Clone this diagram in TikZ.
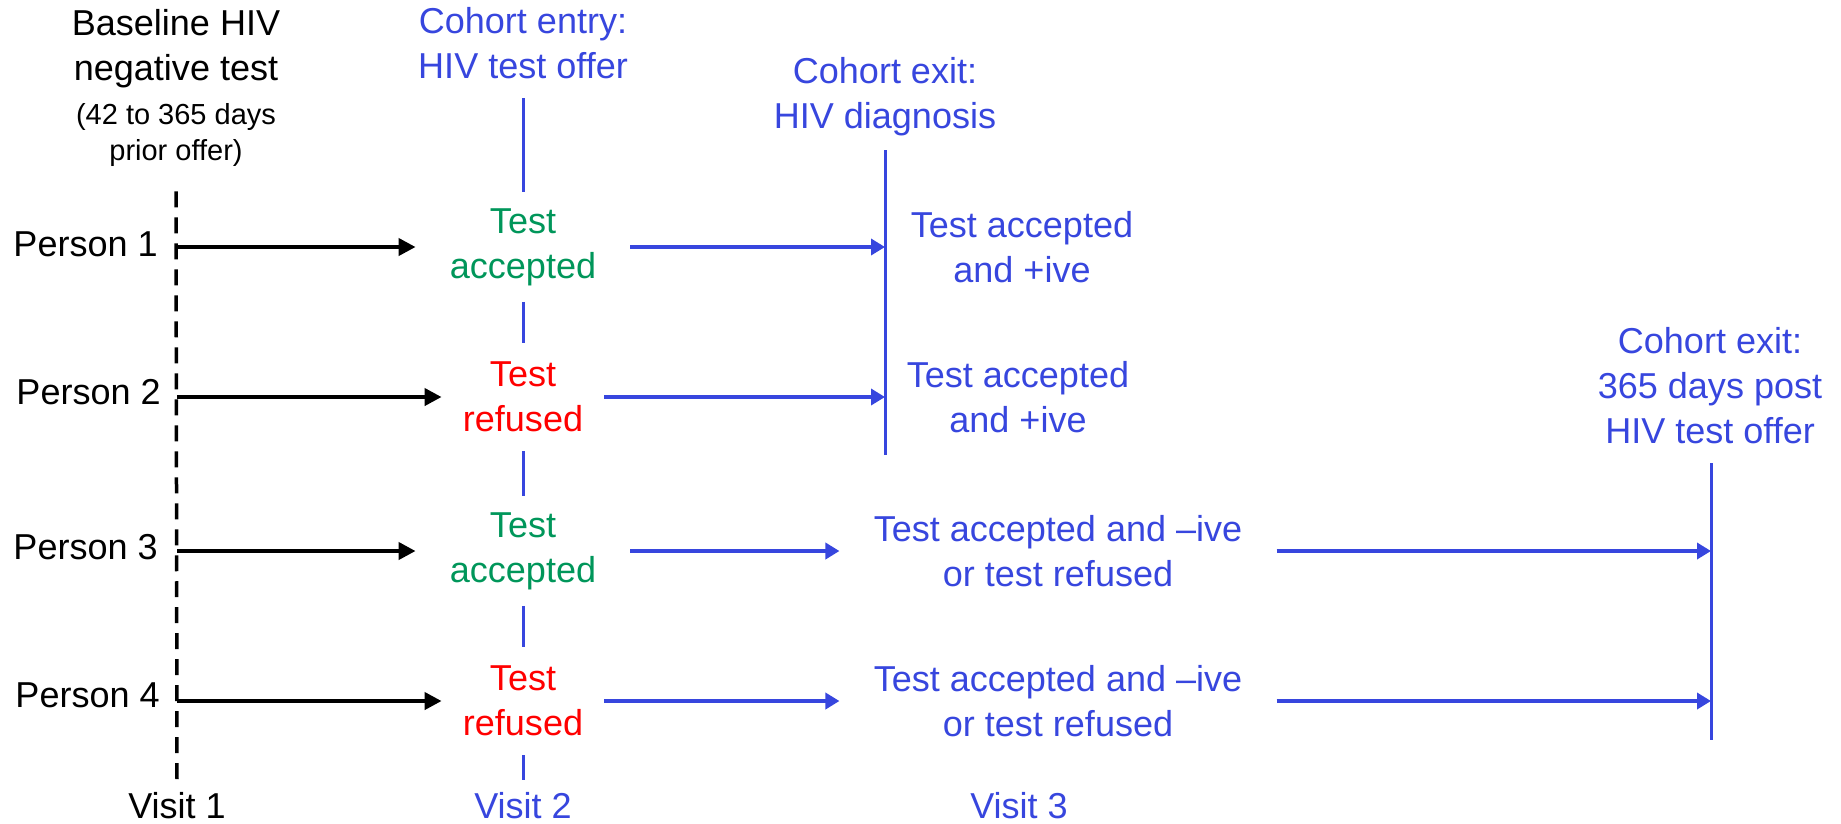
\documentclass[tikz,border=0pt]{standalone}
\usepackage{fontspec}
\setmainfont{Liberation Sans}
\usepackage{xcolor}
\usepackage{tikz}
\usetikzlibrary{positioning,arrows.meta}
\definecolor{cblue}{RGB}{55,70,222}
\definecolor{cgreen}{RGB}{0,150,90}
\definecolor{cred}{RGB}{255,0,0}

\begin{document}
\begin{tikzpicture}[x=0.02cm, y=-0.02cm,
		txt/.style={align=center, inner sep=0pt, font=\fontsize{20.5}{25.6}\selectfont},
		small/.style={align=center, inner sep=0pt, font=\fontsize{16.5}{21}\selectfont},
		accnode/.style={txt, text=cgreen, inner xsep=0.68cm, inner ysep=0.32cm},
		refnode/.style={txt, text=cred, inner xsep=0.42cm, inner ysep=0.38cm},
		blkarrow/.style={line width=0.08cm, -{Triangle[length=0.34cm, width=0.34cm]}},
		bluarrow/.style={cblue, line width=0.08cm, -{Triangle[length=0.28cm, width=0.32cm]}},
		vline/.style={cblue, line width=0.06cm}]
	\useasboundingbox (0,0) rectangle (1841,823);

	% headers
	\node[txt] (base) at (176,49) {Baseline HIV\\negative test};
	\node[small, inner ysep=0.48cm] (prior) at (176,135) {(42 to 365 days\\prior offer)};
	\node[txt, text=cblue, inner ysep=0.38cm] (entry) at (523,43) {Cohort entry:\\HIV test offer};
	\node[txt, text=cblue] (exitdx) at (885,97) {Cohort exit:\\HIV diagnosis};
	\node[txt, text=cblue] (exityr) at (1710,386) {Cohort exit:\\365 days post\\HIV test offer};

	% people
	\node[txt, anchor=east] (p1) at (158,244) {Person 1};
	\node[txt, anchor=east] (p2) at (161,392) {Person 2};
	\node[txt, anchor=east] (p3) at (158,547) {Person 3};
	\node[txt, anchor=east] (p4) at (160,695) {Person 4};

	% visit 2
	\node[accnode] (v2a) at (523,247) {Test\\accepted};
	\node[refnode] (v2b) at (523,397) {Test\\refused};
	\node[accnode] (v2c) at (523,551) {Test\\accepted};
	\node[refnode] (v2d) at (523,701) {Test\\refused};

	% visit 3
	\node[txt, text=cblue] (r1) at (1022,247) {Test accepted\\and +ive};
	\node[txt, text=cblue] (r2) at (1018,397) {Test accepted\\and +ive};
	\node[txt, text=cblue, inner xsep=0.68cm] (r3) at (1058,551) {Test accepted and –ive\\or test refused};
	\node[txt, text=cblue, inner xsep=0.68cm] (r4) at (1058,701) {Test accepted and –ive\\or test refused};

	% visits
	\node[txt, inner ysep=0.24cm] (vis1) at (177,806) {Visit 1};
	\node[txt, text=cblue, inner ysep=0.24cm] (vis2) at (523,806) {Visit 2};
	\node[txt, text=cblue] (vis3) at (1019,806) {Visit 3};

	\coordinate (dxtop) at (885,150);
	\coordinate (dxbot) at (885,455);
	\coordinate (yrtop) at (1711,463);
	\coordinate (yrbot) at (1711,740);

	% time lines
	\draw[line width=0.07cm, dash pattern=on 0.32cm off 0.2cm] (prior.south) -- (vis1.north);
	\draw[vline] (entry.south) -- (v2a.north);
	\draw[vline] (v2a.south) -- (v2b.north);
	\draw[vline] (v2b.south) -- (v2c.north);
	\draw[vline] (v2c.south) -- (v2d.north);
	\draw[vline] (v2d.south) -- (vis2.north);
	\draw[vline] (dxtop) -- (dxbot);
	\draw[vline] (yrtop) -- (yrbot);

	\draw[blkarrow] (v2a -| vis1.north) -- (v2a.west);
	\draw[blkarrow] (v2b -| vis1.north) -- (v2b.west);
	\draw[blkarrow] (v2c -| vis1.north) -- (v2c.west);
	\draw[blkarrow] (v2d -| vis1.north) -- (v2d.west);

	\draw[bluarrow] (v2a.east) -- (v2a.east -| dxtop);
	\draw[bluarrow] (v2b.east) -- (v2b.east -| dxtop);
	\draw[bluarrow] (v2c.east) -- (r3.west);
	\draw[bluarrow] (r3.east) -- (r3.east -| yrtop);
	\draw[bluarrow] (v2d.east) -- (r4.west);
	\draw[bluarrow] (r4.east) -- (r4.east -| yrtop);
\end{tikzpicture}
\end{document}
